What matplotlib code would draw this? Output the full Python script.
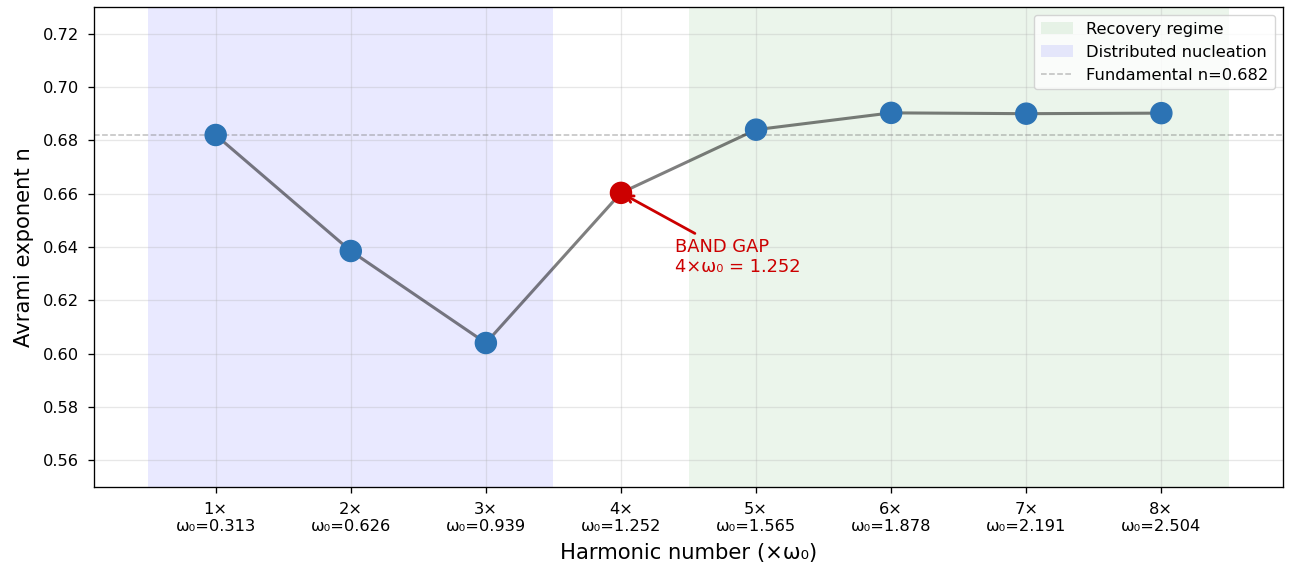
import matplotlib
matplotlib.use("Agg")
import matplotlib.pyplot as plt
from matplotlib.patches import Patch
from matplotlib.lines import Line2D

harmonics = [1, 2, 3, 4, 5, 6, 7, 8]
omega = [0.313, 0.626, 0.939, 1.252, 1.565, 1.878, 2.191, 2.504]
avrami_n = [0.682, 0.6385, 0.604, 0.6603, 0.684, 0.6903, 0.6900, 0.6902]
fundamental_n = 0.682
gap_index = 3
tick_labels = [f"{h}×\nω₀={w:.3f}" for h, w in zip(harmonics, omega)]

fig = plt.figure(figsize=(12.89, 5.69), dpi=100)
ax = fig.add_axes([0.073, 0.1441, 0.9223, 0.8436])

ax.axvspan(4.5, 8.5, color="green", alpha=0.08, lw=0)
ax.axvspan(0.5, 3.5, color="blue", alpha=0.085, lw=0)
ax.axhline(fundamental_n, color="gray", ls="--", lw=1.1, alpha=0.5)

ax.plot(harmonics, avrami_n, color="k", alpha=0.5, lw=2.2, zorder=3)
colors = ["#cc0000" if i == gap_index else "#2c73b4" for i in range(len(harmonics))]
ax.scatter(harmonics, avrami_n, s=230, c=colors, zorder=4)

ax.annotate("BAND GAP\n4×ω₀ = 1.252", xy=(harmonics[gap_index], avrami_n[gap_index]),
            xytext=(4.4, 0.6305), color="#cc0000", fontsize=12.9,
            arrowprops=dict(arrowstyle="->", color="#cc0000", lw=2))

ax.set_xlim(0.1, 8.9)
ax.set_ylim(0.55, 0.73)
ax.set_xticks(harmonics)
ax.set_xticklabels(tick_labels, fontsize=11.7)
ax.tick_params(axis="y", labelsize=11.7)
ax.tick_params(length=4.1, pad=6.5, width=0.95)
for s in ax.spines.values():
    s.set_linewidth(0.95)
ax.set_yticks([0.56, 0.58, 0.60, 0.62, 0.64, 0.66, 0.68, 0.70, 0.72])
ax.grid(True, alpha=0.3, lw=0.95)
ax.set_xlabel("Harmonic number (×ω₀)", fontsize=15.2, labelpad=6.5)
ax.set_ylabel("Avrami exponent n", fontsize=15.2, labelpad=6.5)

handles = [Patch(facecolor="green", alpha=0.08, edgecolor="none", label="Recovery regime"),
           Patch(facecolor="blue", alpha=0.085, edgecolor="none", label="Distributed nucleation"),
           Line2D([], [], color="gray", ls="--", lw=1.1, alpha=0.5, label=f"Fundamental n={fundamental_n}")]
ax.legend(handles=handles, loc="upper right", fontsize=11.7)

fig.savefig("out.png", dpi=100)
